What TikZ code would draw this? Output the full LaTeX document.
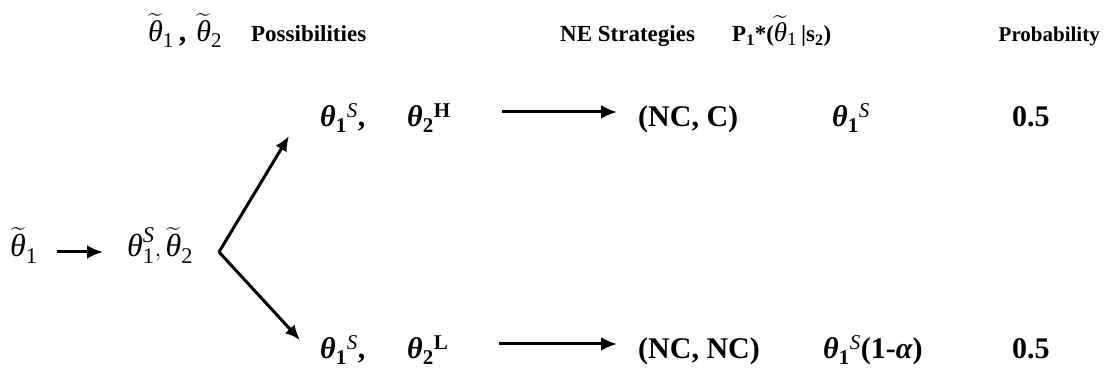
\documentclass[tikz,border=0pt]{standalone}
\usepackage{amsmath}
\usepackage{fontspec}
\setmainfont{Liberation Serif}
\usetikzlibrary{arrows.meta}

% italic and bold-italic theta taken from the text font
\newcommand{\thit}{\text{\normalfont\itshape θ}}
\newcommand{\thbf}{\text{\bfseries\itshape θ}}
\newcommand{\tth}{\widetilde{\thit}}
\newcommand{\up}[1]{\text{\normalfont #1}}
\newcommand{\upb}[1]{\text{\bfseries #1}}
\newcommand{\itS}{\text{\normalfont\itshape S}}
% larger size for the tilde thetas inside the headings
\newcommand{\bigth}[2][30]{{\fontsize{#1}{32}\selectfont #2}}

\tikzset{
  hdr/.style={font=\fontsize{23}{27}\selectfont\bfseries, inner sep=0pt, anchor=base west},
  rowtxt/.style={font=\fontsize{30}{36}\selectfont\bfseries, inner sep=0pt, anchor=base west},
  lft/.style={font=\fontsize{32}{36}\selectfont, inner sep=0pt, anchor=base west},
  arr/.style={line width=3pt, -{Latex[length=16pt,width=14pt]}},
  forkarr/.style={line width=3pt, line join=miter, -{Latex[length=15pt,width=13pt]}},
}

\begin{document}
\begin{tikzpicture}[x=1pt,y=-1pt]
\useasboundingbox (0,0) rectangle (1104,371);

% column headings
\node[hdr] (hposs) at (148,42) {\bigth{$\tth_{\up{1}}$\,,\,\,$\tth_{\up{2}}$}\hspace{29pt}Possibilities};
\node[hdr] (hne)   at (560,42) {NE Strategies};
\node[hdr] (hp)    at (732,42) {P\textsubscript{1}*(\bigth[27]{$\tth_{\up{1}}$}\,|s\textsubscript{2})};
\node[hdr, anchor=base east, font=\fontsize{21}{25}\selectfont\bfseries] (hpr) at (1100,42) {Probability};

% left part
\node[lft] (t1)  at (10,257)  {$\tth_{\up{1}}$};
\node[lft] (t1s) at (127,257) {$\thit_{\up{1}}^{\itS},\tth_{\up{2}}$};
\draw[arr] ([shift={(19pt,5pt)}]t1.base east) -- ([shift={(-24pt,5pt)}]t1s.base west);

% fork
\coordinate (fork) at (219,252);
\coordinate (tipU) at (289,136);
\coordinate (tipL) at (300,340);
\draw[forkarr] (fork) -- (tipU);
\draw[forkarr] (fork) -- (tipL);

% upper row
\node[rowtxt] (r1a) at (320,127) {$\thbf_{\upb{1}}{}^{\itS}$,};
\node[rowtxt] (r1b) at (407,127) {$\thbf_{\upb{2}}{}^{\upb{H}}$};
\node[rowtxt] (ne1) at (638,127) {(NC, C)};
\node[rowtxt] (p1)  at (832,127) {$\thbf_{\upb{1}}{}^{\itS}$};
\node[rowtxt] (pr1) at (1012,127) {0.5};
\draw[arr] ([shift={(51pt,15pt)}]r1b.base east) -- ([shift={(-21pt,15pt)}]ne1.base west);

% lower row
\node[rowtxt] (r2a) at (320,359) {$\thbf_{\upb{1}}{}^{\itS}$,};
\node[rowtxt] (r2b) at (407,359) {$\thbf_{\upb{2}}{}^{\upb{L}}$};
\node[rowtxt] (ne2) at (638,359) {(NC, NC)};
\node[rowtxt] (p2)  at (823,359) {$\thbf_{\upb{1}}{}^{\itS}$(1-\textit{α})};
\node[rowtxt] (pr2) at (1012,359) {0.5};
\draw[arr] ([shift={(51pt,15pt)}]r2b.base east) -- ([shift={(-21pt,15pt)}]ne2.base west);
\end{tikzpicture}
\end{document}
